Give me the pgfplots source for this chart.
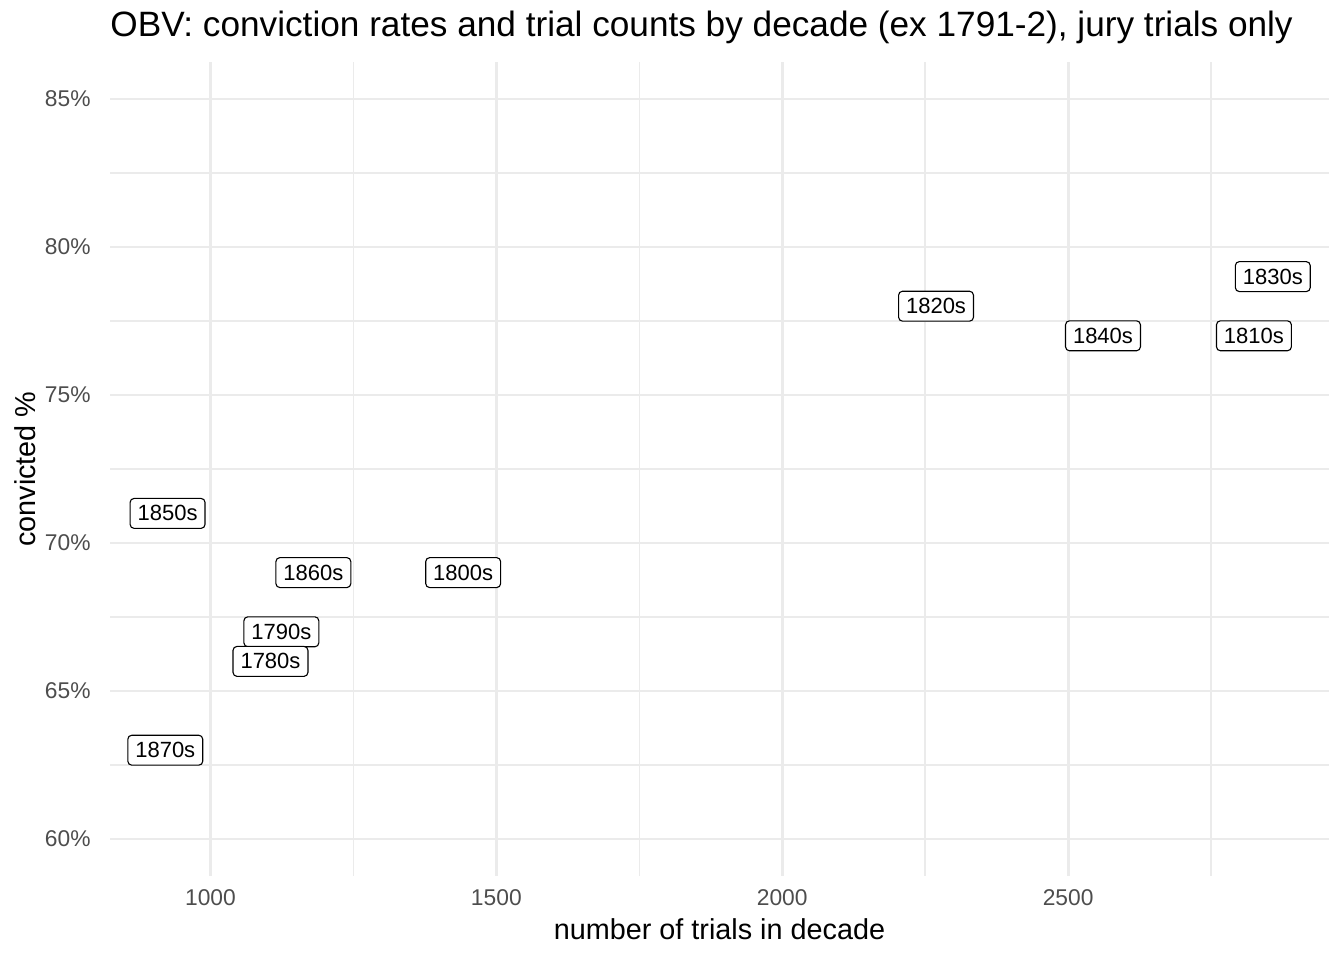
\documentclass[border=0pt]{standalone}
\usepackage{fontspec}
\setmainfont{Liberation Sans}
\usepackage{pgfplots}
\pgfplotsset{compat=1.18}
\usepackage{pgfplotstable}
\definecolor{gridc}{HTML}{EBEBEB}
\definecolor{tickc}{HTML}{4D4D4D}
\pgfplotstableread{
x y label
2858 79 1830s
2269 78 1820s
2561 77 1840s
2825 77 1810s
925 71 1850s
1180 69 1860s
1442 69 1800s
1124 67 1790s
1105 66 1780s
921 63 1870s
}\obvdata
\begin{document}
\begin{tikzpicture}
\path[use as bounding box] (0,0) rectangle (672pt,480pt);
\begin{axis}[
  at={(55pt,42pt)}, anchor=south west,
  scale only axis, width=609.5pt, height=407pt,
  xmin=824.3, xmax=2956.3, ymin=58.75, ymax=86.25,
  axis line style={draw=none},
  major tick style={draw=none}, minor tick style={draw=none},
  xtick={1000,1500,2000,2500},
  minor xtick={1250,1750,2250,2750},
  ytick={60,65,70,75,80,85},
  minor ytick={62.5,67.5,72.5,77.5,82.5},
  grid=both,
  major grid style={color=gridc, line width=1.4pt},
  minor grid style={color=gridc, line width=0.7pt},
  scaled ticks=false,
  /pgf/number format/1000 sep={},
  /pgf/number format/assume math mode=true,
  ticklabel style={font=\fontsize{11.4}{13}\selectfont, text=tickc, inner sep=0pt},
  xticklabel style={anchor=north, yshift=-6.5pt},
  yticklabel style={anchor=east, xshift=-9.5pt},
  yticklabel={\pgfmathprintnumber{\tick}\%},
  title={OBV: conviction rates and trial counts by decade (ex 1791-2), jury trials only},
  every axis title/.style={at={(0,1)}, anchor=base west, yshift=12.5pt, inner sep=0pt, font=\fontsize{17.6}{20}\selectfont},
  xlabel={number of trials in decade},
  every axis x label/.style={at={(0.5,0)}, anchor=base, yshift=-31.5pt, inner sep=0pt, font=\fontsize{14.4}{17}\selectfont},
  ylabel={convicted \%},
  every axis y label/.style={at={(0,0.5)}, rotate=90, anchor=base, yshift=37pt, inner sep=0pt, font=\fontsize{14.4}{17}\selectfont},
  clip=false,
]
\addplot[draw=none, mark=none, nodes near coords, point meta=explicit symbolic,
  nodes near coords style={anchor=center, draw=black, line width=0.55pt, fill=white,
    rounded corners=2pt, inner xsep=3.75pt, inner ysep=3.6pt,
    font=\fontsize{11}{13}\selectfont, text=black}]
  table[x=x, y=y, meta=label] {\obvdata};
\end{axis}
\end{tikzpicture}
\end{document}
